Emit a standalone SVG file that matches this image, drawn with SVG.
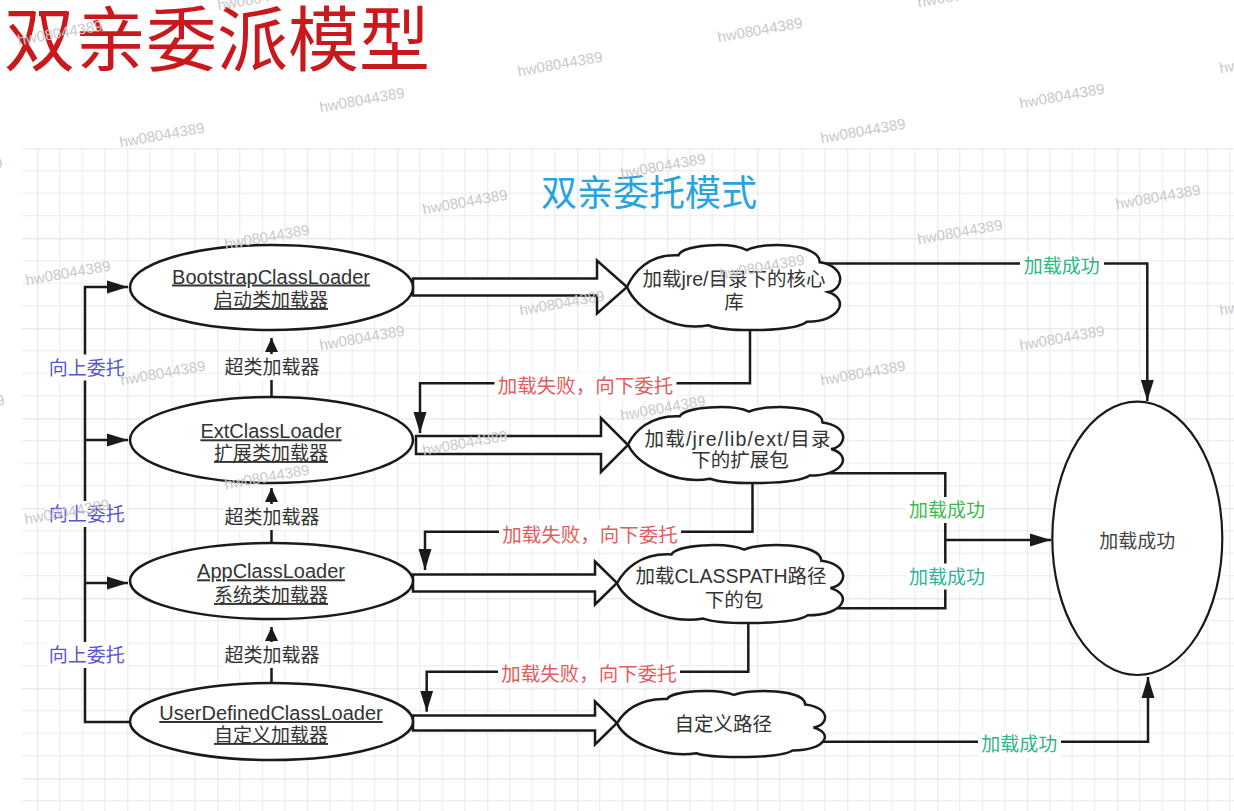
<svg xmlns="http://www.w3.org/2000/svg" width="1234" height="811" viewBox="0 0 1234 811">
<defs>
<style>
text { font-family: "Liberation Sans", "Noto Sans CJK SC", sans-serif; }
.node { fill: #fff; stroke: #1a1a1a; stroke-width: 2.5; }
.ln { fill: none; stroke: #1a1a1a; stroke-width: 2.5; }
.blk { fill: #fff; stroke: #1a1a1a; stroke-width: 2.5; stroke-linejoin: miter; }
.nt { font-size: 20px; fill: #333; text-anchor: middle; text-decoration: underline; }
.nt2 { font-size: 19px; fill: #333; text-anchor: middle; text-decoration: underline; }
.ct { font-size: 19.5px; fill: #333; text-anchor: middle; }
.up { font-size: 19px; fill: #5656cf; text-anchor: middle; }
.sup { font-size: 19px; fill: #333; text-anchor: middle; }
.fail { font-size: 19.5px; fill: #e35d5d; text-anchor: middle; }
.ok { font-size: 19px; text-anchor: middle; }
.bg { fill: #fff; }
.wm { font-size: 15px; fill: #c9c9c9; text-anchor: middle; }
</style>
<pattern id="grid" patternUnits="userSpaceOnUse" x="37.3" y="148.3" width="90" height="90">
<path d="M22.5,0V90M45,0V90M67.5,0V90M0,22.5H90M0,45H90M0,67.5H90" stroke="#eaeaea" stroke-width="1" fill="none"/>
<path d="M0,0V90M0,0H90" stroke="#d8d8d8" stroke-width="1.3" fill="none"/>
</pattern>
<marker id="arr" markerUnits="userSpaceOnUse" markerWidth="22" markerHeight="14" refX="21" refY="7" orient="auto">
<path d="M0,0.5 L21,7 L0,13.5 Z" fill="#1a1a1a"/>
</marker>
<marker id="arrS" markerUnits="userSpaceOnUse" markerWidth="15" markerHeight="14" refX="14" refY="7" orient="auto">
<path d="M0,0.5 L14,7 L0,13.5 Z" fill="#1a1a1a"/>
</marker>
<path id="cloud" d="M0,50 C3,34 10,12 24,14 C26,2 48,-2 56,8 C64,-2 90,0 90,22 C102,26 102,52 94,56 C104,64 100,90 84,90 C78,102 46,102 38,94 C22,102 4,76 0,50 Z" fill="#fff" stroke="#1a1a1a" stroke-width="2.5" vector-effect="non-scaling-stroke"/>
</defs>

<rect x="0" y="0" width="1234" height="811" fill="#fff"/>
<rect x="21.7" y="148.3" width="1212.3" height="662.7" fill="url(#grid)"/>

<text x="4" y="64.5" font-size="71" fill="#c9191c">双亲委派模型</text>
<text x="649" y="206" font-size="36" fill="#27a3df" text-anchor="middle">双亲委托模式</text>

<g id="connectors">
<path class="ln" d="M130,722 H85 V287 H128" marker-end="url(#arr)"/>
<path class="ln" d="M85,440 H128" marker-end="url(#arr)"/>
<path class="ln" d="M85,583 H128" marker-end="url(#arr)"/>
<path class="ln" d="M271.5,397 V338" marker-end="url(#arrS)"/>
<path class="ln" d="M271.5,543 V488" marker-end="url(#arrS)"/>
<path class="ln" d="M271.5,683 V627" marker-end="url(#arrS)"/>
<path class="blk" d="M413,278.5 H597 V260.5 L627,287 L597,313.5 V295.5 H413 Z"/>
<path class="blk" d="M416,436 H601 V418 L628,445 L601,472 V454 H416 Z"/>
<path class="blk" d="M413,574.5 H595 V561.5 L617,583 L595,604.5 V591.5 H413 Z"/>
<path class="blk" d="M413,715.5 H595 V701.5 L617,723 L595,744.5 V730.5 H413 Z"/>
<path class="ln" d="M750,320 V383.3 H420 V433" marker-end="url(#arr)"/>
<path class="ln" d="M752.5,470 V531.7 H425 V570" marker-end="url(#arr)"/>
<path class="ln" d="M748.3,610 V671.7 H426.7 V711.7" marker-end="url(#arr)"/>
<path class="ln" d="M800,263.4 H1147.3 V401" marker-end="url(#arr)"/>
<path class="ln" d="M800,473.3 H945.3 V608.3 H800"/>
<path class="ln" d="M945.3,540 H1051" marker-end="url(#arr)"/>
<path class="ln" d="M790,741.7 H1148 V677" marker-end="url(#arr)"/>

<rect class="bg" x="47" y="354.5" width="80" height="26"/>
<text class="up" x="86.7" y="374.7">向上委托</text>
<rect class="bg" x="47" y="501" width="80" height="26"/>
<text class="up" x="86.7" y="521.4">向上委托</text>
<rect class="bg" x="47" y="642" width="80" height="26"/>
<text class="up" x="86.7" y="662.4">向上委托</text>

<rect class="bg" x="223" y="354" width="98" height="26"/>
<text class="sup" x="272" y="374">超类加载器</text>
<rect class="bg" x="223" y="504" width="98" height="26"/>
<text class="sup" x="272" y="524">超类加载器</text>
<rect class="bg" x="223" y="642" width="98" height="26"/>
<text class="sup" x="272" y="662.4">超类加载器</text>

<rect class="bg" x="494.5" y="373" width="182" height="26"/>
<text class="fail" x="585.5" y="393.2">加载失败，向下委托</text>
<rect class="bg" x="499" y="522" width="182" height="26"/>
<text class="fail" x="590" y="542.4">加载失败，向下委托</text>
<rect class="bg" x="498" y="661" width="182" height="26"/>
<text class="fail" x="589" y="681.4">加载失败，向下委托</text>

<rect class="bg" x="1020" y="253" width="84" height="26"/>
<text class="ok" x="1061.7" y="273.4" fill="#2db67d">加载成功</text>
<rect class="bg" x="906" y="497" width="82" height="26"/>
<text class="ok" x="947" y="517.4" fill="#41b94f">加载成功</text>
<rect class="bg" x="906" y="563.5" width="82" height="26"/>
<text class="ok" x="947" y="584" fill="#2cb597">加载成功</text>
<rect class="bg" x="978" y="731" width="83" height="26"/>
<text class="ok" x="1019.3" y="751.4" fill="#2db68a">加载成功</text>
</g>

<g id="bootstrap">
<ellipse class="node" cx="271.5" cy="287.5" rx="141.5" ry="42.5"/>
<text class="nt" x="271" y="283.5">BootstrapClassLoader</text>
<text class="nt2" x="271" y="307">启动类加载器</text>
</g>
<g id="ext">
<ellipse class="node" cx="271.5" cy="440" rx="141.5" ry="43"/>
<text class="nt" x="271" y="438.3">ExtClassLoader</text>
<text class="nt2" x="271" y="460">扩展类加载器</text>
</g>
<g id="app">
<ellipse class="node" cx="271.5" cy="581" rx="141.5" ry="38"/>
<text class="nt" x="271" y="578.3">AppClassLoader</text>
<text class="nt2" x="271" y="602">系统类加载器</text>
</g>
<g id="userdefined">
<ellipse class="node" cx="271.5" cy="721.5" rx="141.5" ry="38.5"/>
<text class="nt" x="271" y="720">UserDefinedClassLoader</text>
<text class="nt2" x="271" y="742">自定义加载器</text>
</g>

<g id="cloud-core">
<use href="#cloud" transform="translate(627,243.1) scale(2.141,0.8736)"/>
<text class="ct" x="734" y="286.4">加载jre/目录下的核心</text>
<text class="ct" x="734" y="309">库</text>
</g>
<g id="cloud-ext">
<use href="#cloud" transform="translate(628,405.3) scale(2.161,0.781)"/>
<text class="ct" x="737.5" y="446" textLength="186" lengthAdjust="spacing">加载/jre/lib/ext/目录</text>
<text class="ct" x="740" y="467.4">下的扩展包</text>
</g>
<g id="cloud-classpath">
<use href="#cloud" transform="translate(617,543.2) scale(2.271,0.8017)"/>
<text class="ct" x="731" y="583">加载CLASSPATH路径</text>
<text class="ct" x="734" y="606.5">下的包</text>
</g>
<g id="cloud-custom">
<use href="#cloud" transform="translate(617,689.5) scale(2.09,0.678)"/>
<text class="ct" x="723.3" y="731.4">自定义路径</text>
</g>

<g id="success">
<ellipse cx="1137.3" cy="538.3" rx="85" ry="136.7" fill="#fff" stroke="#1a1a1a" stroke-width="2.2"/>
<text x="1137.3" y="548.4" font-size="19" fill="#444" text-anchor="middle">加载成功</text>
</g>

<g id="watermarks">
<text class="wm" x="60" y="38" transform="rotate(-10 60 33)">hw08044389</text>
<text class="wm" x="260" y="3" transform="rotate(-10 260 -2)">hw08044389</text>
<text class="wm" x="-40" y="175" transform="rotate(-10 -40 170)">hw08044389</text>
<text class="wm" x="162" y="140" transform="rotate(-10 162 135)">hw08044389</text>
<text class="wm" x="362" y="105" transform="rotate(-10 362 100)">hw08044389</text>
<text class="wm" x="560" y="69" transform="rotate(-10 560 64)">hw08044389</text>
<text class="wm" x="760" y="35" transform="rotate(-10 760 30)">hw08044389</text>
<text class="wm" x="960" y="0" transform="rotate(-10 960 -5)">hw08044389</text>
<text class="wm" x="68" y="278" transform="rotate(-10 68 273)">hw08044389</text>
<text class="wm" x="267" y="242" transform="rotate(-10 267 237)">hw08044389</text>
<text class="wm" x="465" y="207" transform="rotate(-10 465 202)">hw08044389</text>
<text class="wm" x="663" y="171" transform="rotate(-10 663 166)">hw08044389</text>
<text class="wm" x="863" y="136" transform="rotate(-10 863 131)">hw08044389</text>
<text class="wm" x="1062" y="101" transform="rotate(-10 1062 96)">hw08044389</text>
<text class="wm" x="1262" y="66" transform="rotate(-10 1262 61)">hw08044389</text>
<text class="wm" x="-38" y="412" transform="rotate(-10 -38 407)">hw08044389</text>
<text class="wm" x="163" y="378" transform="rotate(-10 163 373)">hw08044389</text>
<text class="wm" x="362" y="343" transform="rotate(-10 362 338)">hw08044389</text>
<text class="wm" x="562" y="308" transform="rotate(-10 562 303)">hw08044389</text>
<text class="wm" x="762" y="272" transform="rotate(-10 762 267)">hw08044389</text>
<text class="wm" x="960" y="237" transform="rotate(-10 960 232)">hw08044389</text>
<text class="wm" x="1158" y="202" transform="rotate(-10 1158 197)">hw08044389</text>
<text class="wm" x="67" y="517" transform="rotate(-10 67 512)">hw08044389</text>
<text class="wm" x="267" y="482" transform="rotate(-10 267 477)">hw08044389</text>
<text class="wm" x="465" y="448" transform="rotate(-10 465 443)">hw08044389</text>
<text class="wm" x="663" y="413" transform="rotate(-10 663 408)">hw08044389</text>
<text class="wm" x="863" y="378" transform="rotate(-10 863 373)">hw08044389</text>
<text class="wm" x="1062" y="343" transform="rotate(-10 1062 338)">hw08044389</text>
<text class="wm" x="1262" y="308" transform="rotate(-10 1262 303)">hw08044389</text>
</g>
</svg>
